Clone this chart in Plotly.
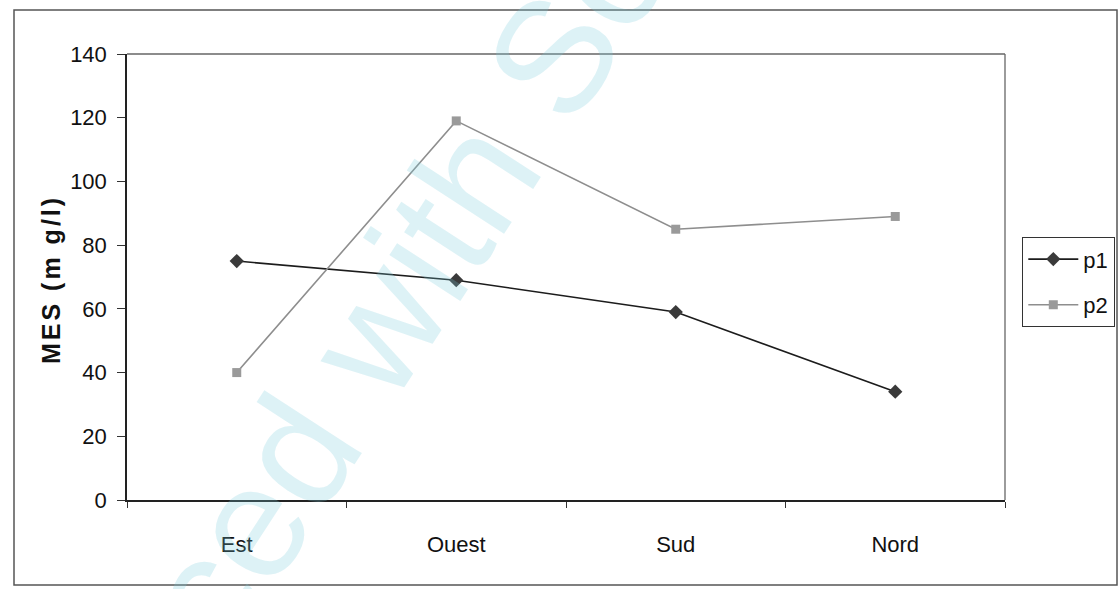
import plotly.graph_objects as go

# Sampling sites and suspended-solids concentrations (mg/l)
sites = ["Est", "Ouest", "Sud", "Nord"]
p1_values = [75, 69, 59, 34]
p2_values = [40, 119, 85, 89]
y_ticks = [0, 20, 40, 60, 80, 100, 120, 140]

W, H = 1120, 589
L, R, T, B = 127, 1005, 54, 500          # plot area in pixels
FONT = "Liberation Sans, Arial, sans-serif"


def px(x):
    return (x - L) / (R - L)


def py(y):
    return (B - y) / (B - T)


fig = go.Figure()
fig.add_trace(go.Scatter(
    x=sites, y=p1_values, name="p1", mode="lines+markers",
    line=dict(color="#1c1c1c", width=1.6),
    marker=dict(symbol="diamond", size=11, color="#3a3a3a"),
    legendgroup="a",
))
fig.add_trace(go.Scatter(
    x=sites, y=p2_values, name="p2", mode="lines+markers",
    line=dict(color="#8e8e8e", width=1.6),
    marker=dict(symbol="square", size=9, color="#9a9a9a"),
    legendgroup="b",
))

shapes = [
    # outer chart frame
    dict(type="rect", xref="paper", yref="paper",
         x0=px(14), x1=px(1117), y0=py(585), y1=py(10),
         line=dict(color="#555555", width=1.5)),
    # plot area border (top and right)
    dict(type="line", xref="paper", yref="paper",
         x0=0, x1=1, y0=1, y1=1, line=dict(color="#666666", width=1.3)),
    dict(type="line", xref="paper", yref="paper",
         x0=1, x1=1, y0=0, y1=1, line=dict(color="#666666", width=1.3)),
]

annotations = [
    dict(text="<b><span style='letter-spacing:3px'>MES (m g/l)</span></b>",
         xref="paper", yref="paper", x=px(51), y=py(280),
         xanchor="center", yanchor="middle", textangle=-90,
         showarrow=False, font=dict(family=FONT, size=25, color="#111111")),
    # scanner watermark
    dict(text="Produced with ScanTo PDF",
         xref="paper", yref="paper", x=px(480), y=py(168),
         xanchor="center", yanchor="middle", textangle=-57,
         showarrow=False,
         font=dict(family=FONT, size=160, color="rgba(120,205,220,0.25)")),
]

fig.update_layout(
    width=W, height=H,
    margin=dict(l=L, r=W - R, t=T, b=H - B, pad=0, autoexpand=False),
    paper_bgcolor="white", plot_bgcolor="white",
    font=dict(family=FONT, size=22, color="#111111"),
    showlegend=True,
    legend=dict(
        x=px(1022), y=py(237), xanchor="left", yanchor="top",
        bgcolor="white", bordercolor="#333333", borderwidth=1.3,
        font=dict(family=FONT, size=22, color="#111111"),
        tracegroupgap=14, itemwidth=50,
    ),
    shapes=shapes,
    annotations=annotations,
    xaxis=dict(
        type="category", categoryorder="array", categoryarray=sites,
        range=[-0.5, 3.5], tickson="boundaries",
        ticks="outside", ticklen=6, tickcolor="#333333",
        showline=True, linecolor="#222222", linewidth=1.5,
        showgrid=False, zeroline=False,
        ticklabelstandoff=24,
        tickfont=dict(family=FONT, size=22, color="#111111"),
    ),
    yaxis=dict(
        range=[0, 140], tickvals=y_ticks,
        ticks="outside", ticklen=8, tickcolor="#333333",
        showline=True, linecolor="#222222", linewidth=1.5,
        showgrid=False, zeroline=False,
        ticklabelstandoff=6,
        tickfont=dict(family=FONT, size=22, color="#111111"),
    ),
)

fig.write_html("out.html")
